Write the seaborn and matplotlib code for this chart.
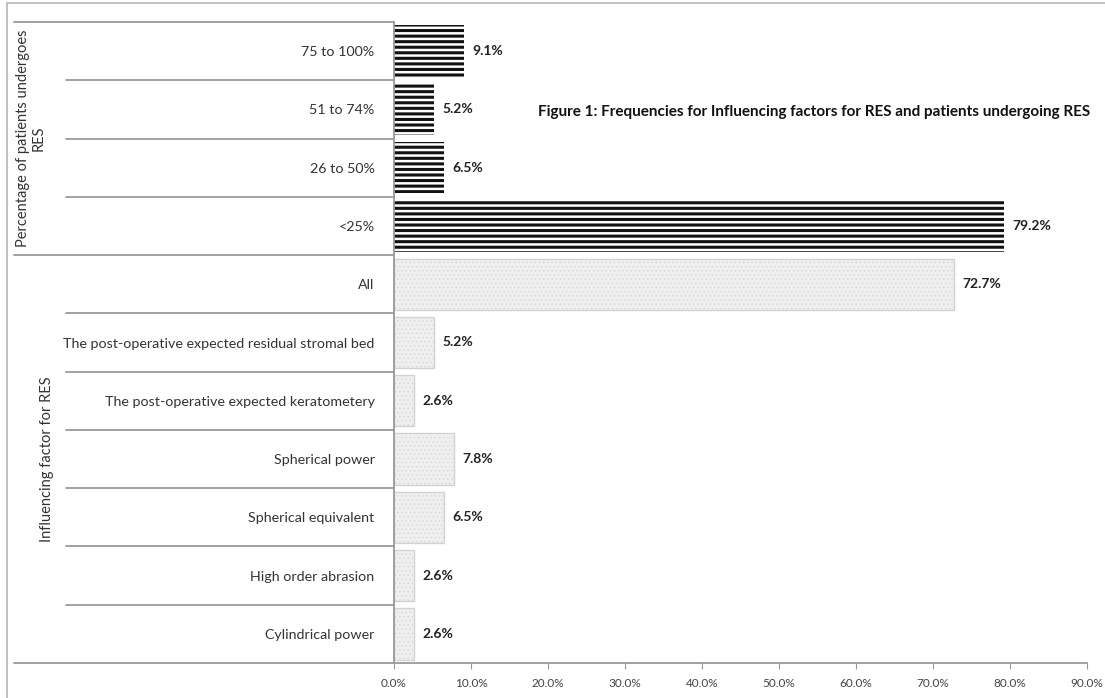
import pandas as pd
import seaborn as sns
import matplotlib.pyplot as plt
import matplotlib.transforms as mtransforms
from matplotlib.lines import Line2D
from matplotlib.patches import Rectangle

# chart data, top to bottom
categories = [
    "75 to 100%", "51 to 74%", "26 to 50%", "<25%",
    "All",
    "The post-operative expected residual stromal bed",
    "The post-operative expected keratometery",
    "Spherical power",
    "Spherical equivalent",
    "High order abrasion",
    "Cylindrical power",
]
values = [9.1, 5.2, 6.5, 79.2, 72.7, 5.2, 2.6, 7.8, 6.5, 2.6, 2.6]
groups = ["pct"] * 4 + ["factor"] * 7
group_labels = {"pct": "Percentage of patients undergoes\nRES",
                "factor": "Influencing factor for RES"}
x_ticks = [0, 10, 20, 30, 40, 50, 60, 70, 80, 90]
title = "Figure 1: Frequencies for Influencing factors for RES and patients undergoing RES"

sns.set_style("white")
plt.rcParams['font.family'] = ['Lato', 'DejaVu Sans']
plt.rcParams['hatch.linewidth'] = 2.2

W, H = 1105, 698
fig = plt.figure(figsize=(W / 100, H / 100), dpi=100)
ax = fig.add_axes([394 / W, 1 - 663 / H, (1087 - 394) / W, (663 - 22) / H])

df = pd.DataFrame({'Category': categories, 'Percent': values, 'Group': groups})
sns.barplot(data=df, x='Percent', y='Category', orient='h', color='white',
            width=0.88, ax=ax)

# bar styling: striped black for top group, light dotted for lower group
for patch, grp in zip(ax.patches, groups):
    if grp == "pct":
        patch.set_facecolor('white')
        patch.set_edgecolor('#111111')
        patch.set_linewidth(0)
        patch.set_hatch('---')
    else:
        patch.set_facecolor('#efefef')
        patch.set_edgecolor('#d2d2d2')
        patch.set_linewidth(1.0)
        if hasattr(patch, 'set_hatch_linewidth'):
            patch.set_hatch('....')
            patch.set_hatch_linewidth(0.4)

# value labels
for patch, v in zip(ax.patches, values):
    y = patch.get_y() + patch.get_height() / 2
    ax.text(patch.get_width() + 1.1, y, f"{v:.1f}%", va='center', ha='left',
            fontsize=10, fontweight='bold', color='#222222')

ax.set_xlim(0, 90)
ax.set_ylim(len(categories) - 0.5, -0.5)
ax.set_xticks(x_ticks)
ax.set_xticklabels([f"{t:.1f}%" for t in x_ticks])
ax.set_xlabel("")
ax.set_ylabel("")
ax.tick_params(axis='x', labelsize=8.5, colors='#444444', length=4, width=0.8,
               direction='out', pad=7, color='#999999', bottom=True)
ax.tick_params(axis='y', labelsize=10.3, colors='#333333', length=0, pad=14)

for side in ['top', 'right']:
    ax.spines[side].set_visible(False)
for side in ['left', 'bottom']:
    ax.spines[side].set_color('#9a9a9a')
    ax.spines[side].set_linewidth(1.3)

# hierarchical label box on the left
trans = mtransforms.blended_transform_factory(fig.transFigure, ax.transData)
ax_left = 394 / W
for i in range(len(categories) + 1):
    y = i - 0.5
    if i == 0 or i == len(categories) or groups[i] != groups[i - 1]:
        x0 = 14 / W
    else:
        x0 = 66 / W
    fig.add_artist(Line2D([x0, ax_left], [y, y], transform=trans,
                          color='#9a9a9a', lw=1.3))

# group labels
for grp, xpix in [("pct", 31), ("factor", 47)]:
    idx = [i for i, g in enumerate(groups) if g == grp]
    yc = (idx[0] + idx[-1]) / 2
    ax.text(xpix / W, yc, group_labels[grp], rotation=90, ha='center',
            va='center', fontsize=10.5, color='#333333', transform=trans,
            linespacing=1.1, clip_on=False)

# title
fig.text(538 / W, 1 - 112 / H, title, ha='left', va='center', fontsize=11,
         fontweight='bold', color='#111111')

# outer frame, only its left and top edges fall inside the picture
fig.add_artist(Rectangle((7 / W, -0.1), 1.2, 1.1 - 3 / H, transform=fig.transFigure,
                         fill=False, edgecolor='#b5b5b5', lw=1.2))

fig.savefig("out.png", dpi=100)
